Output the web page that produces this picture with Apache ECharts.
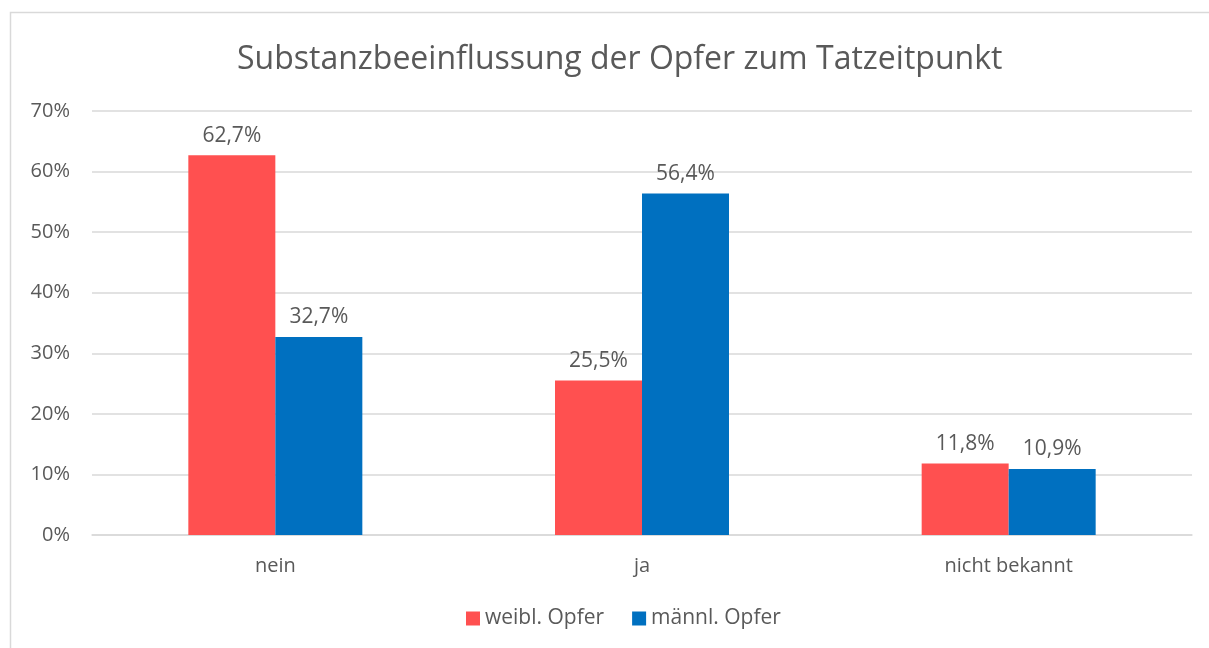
<!DOCTYPE html>
<html>
<head>
    <meta charset=utf-8>
    <title>Substanzbeeinflussung</title>
    <script src="https://cdn.jsdelivr.net/npm/echarts@6/dist/echarts.min.js"></script>
    <style>
        html, body { margin: 0; padding: 0; background: #fff; }
        #main { width: 1209px; height: 648px; }
    </style>
</head>
<body>
<div id="main"></div>
<script type="text/javascript">
    // Daten
    var categories = ['nein', 'ja', 'nicht bekannt'];
    var weiblOpfer = [62.7, 25.5, 11.8];
    var maennlOpfer = [32.7, 56.4, 10.9];
    var seriesNames = ['weibl. Opfer', 'männl. Opfer'];

    var textColor = '#595959';
    var font = '"Open Sans", "Noto Sans", sans-serif';

    function pct(p) {
        return p.value.toFixed(1).replace('.', ',') + '%';
    }

    var myChart = echarts.init(document.getElementById('main'));

    var option = {
        animation: false,
        textStyle: { fontFamily: font },
        title: {
            text: 'Substanzbeeinflussung der Opfer zum Tatzeitpunkt',
            left: 232,
            top: 39,
            textStyle: { color: textColor, fontSize: 32, fontWeight: 'normal', fontFamily: font }
        },
        graphic: [{
            type: 'rect',
            shape: { x: 10.5, y: 12.5, width: 1400, height: 800 },
            style: { fill: 'none', stroke: '#d9d9d9', lineWidth: 1.5 },
            silent: true
        }],
        legend: {
            data: seriesNames,
            bottom: 14,
            left: 461,
            itemWidth: 14,
            itemHeight: 14,
            itemGap: 28,
            icon: 'rect',
            textStyle: { color: textColor, fontSize: 21, fontFamily: font }
        },
        grid: {
            left: 92,
            right: 17,
            top: 111,
            bottom: 113,
            containLabel: false
        },
        xAxis: {
            type: 'category',
            data: categories,
            axisLine: { lineStyle: { color: '#d9d9d9', width: 1.5 } },
            axisTick: { show: false },
            axisLabel: { color: textColor, fontSize: 20, margin: 21 }
        },
        yAxis: {
            type: 'value',
            min: 0,
            max: 70,
            interval: 10,
            axisLine: { show: false },
            axisTick: { show: false },
            splitLine: { lineStyle: { color: '#d9d9d9', width: 1.5 } },
            axisLabel: {
                color: textColor,
                fontSize: 20,
                margin: 22,
                formatter: function (v) { return v + '%'; }
            }
        },
        series: [
            {
                name: seriesNames[0],
                type: 'bar',
                data: weiblOpfer,
                barWidth: 87,
                barGap: '0%',
                itemStyle: { color: '#FF5050' },
                label: { show: true, position: 'top', distance: 9, color: textColor, fontSize: 21, formatter: pct }
            },
            {
                name: seriesNames[1],
                type: 'bar',
                data: maennlOpfer,
                barWidth: 87,
                barGap: '0%',
                itemStyle: { color: '#0070C0' },
                label: { show: true, position: 'top', distance: 9, color: textColor, fontSize: 21, formatter: pct }
            }
        ]
    };

    myChart.setOption(option);
</script>
</body>
</html>
